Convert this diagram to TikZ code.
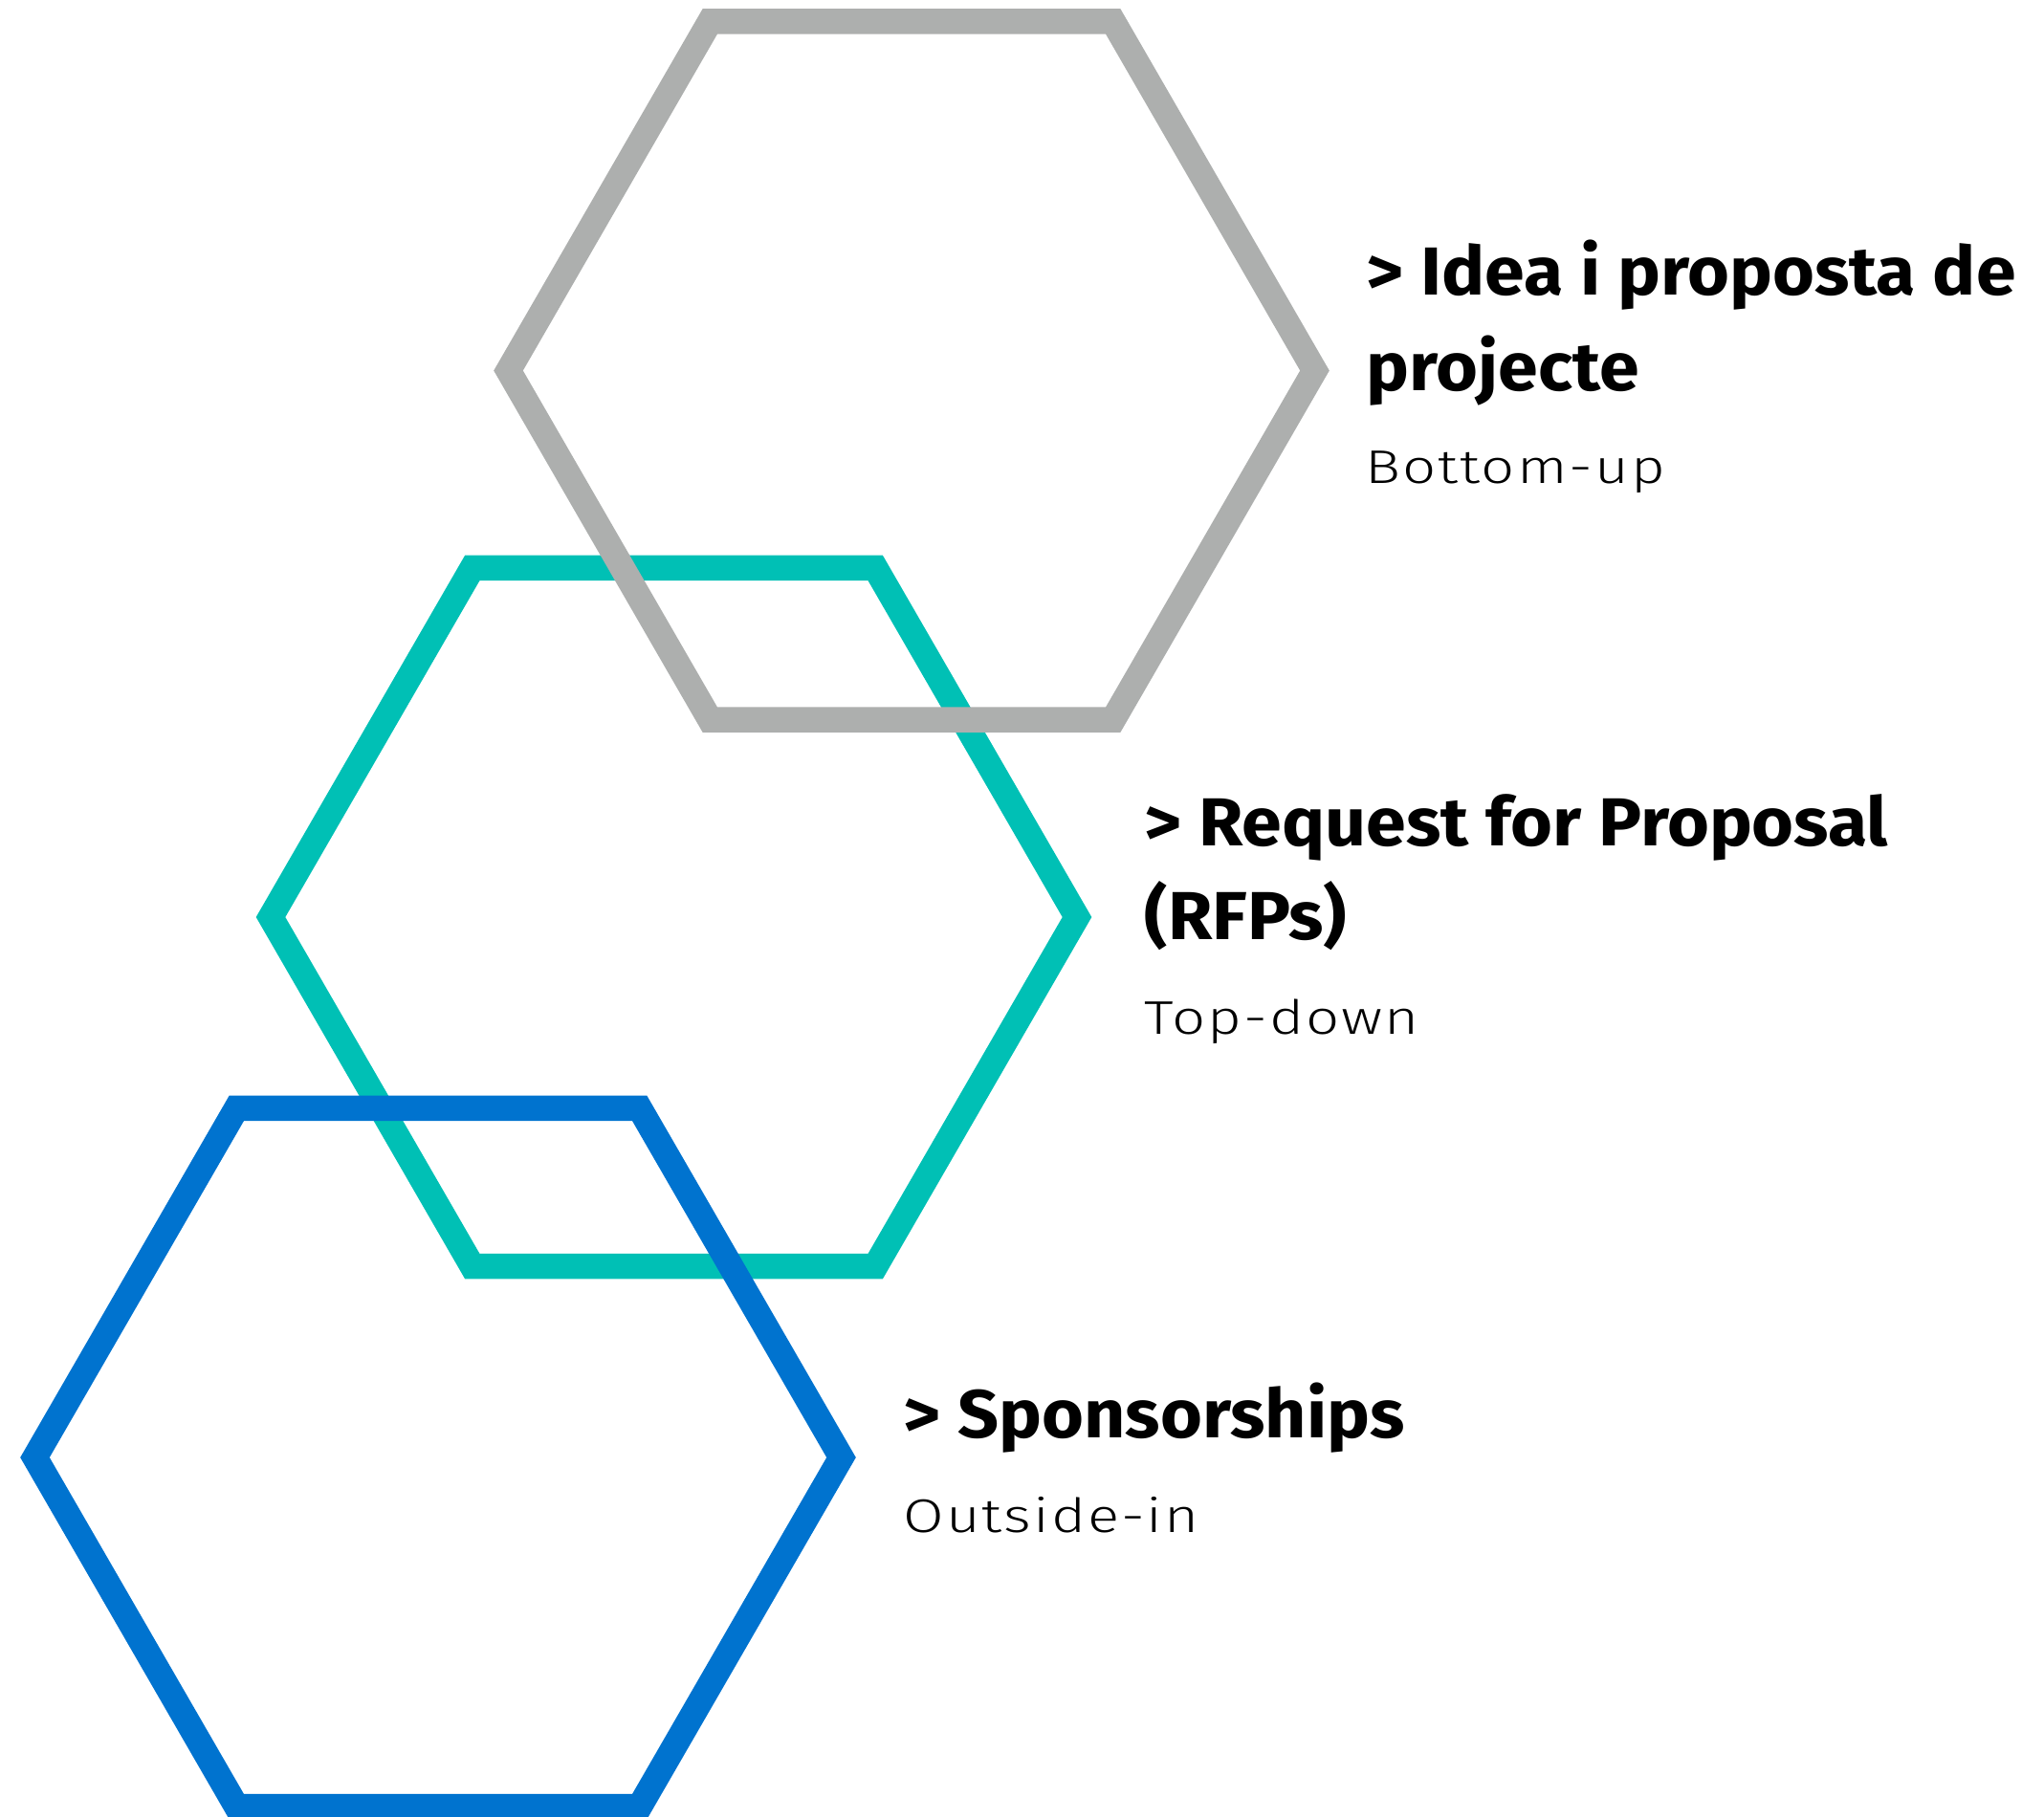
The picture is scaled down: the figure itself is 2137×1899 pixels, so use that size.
\documentclass[tikz,border=0pt]{standalone}
\usepackage{fontspec}
\setmainfont{Fira Sans}
\newfontfamily\headfont{Fira Sans}[FakeStretch=1.06]
\newfontfamily\subfont{Fira Sans Light}[FakeStretch=1.25, LetterSpace=4]
\definecolor{hexgray}{HTML}{ADAFAE}
\definecolor{hexteal}{HTML}{00C0B5}
\definecolor{hexblue}{HTML}{0073CF}
\tikzset{
  hexline/.style={line width=7.95pt, line join=miter},
  head/.style={anchor=base west, inner sep=0pt, font=\fontsize{21.3pt}{24pt}\headfont\bfseries, text=black},
  subt/.style={anchor=base west, inner sep=0pt, font=\fontsize{14.8pt}{17pt}\subfont, text=black},
}
\begin{document}
\begin{tikzpicture}[x=0.3pt, y=-0.3pt]
\useasboundingbox (0,0) rectangle (2137,1899);
% hexagon radius 421.5 px
\coordinate (cg) at (953,387.5);
\coordinate (ct) at (704.5,959);
\coordinate (cb) at (458,1524);
\draw[hexline, hexteal] ([shift={(0:421.5)}]ct) -- ++(120:421.5) -- ++(180:421.5) -- ++(240:421.5) -- ++(300:421.5) -- ++(0:421.5) -- cycle;
\draw[hexline, hexgray] ([shift={(0:421.5)}]cg) -- ++(120:421.5) -- ++(180:421.5) -- ++(240:421.5) -- ++(300:421.5) -- ++(0:421.5) -- cycle;
\draw[hexline, hexblue] ([shift={(0:421.5)}]cb) -- ++(120:421.5) -- ++(180:421.5) -- ++(240:421.5) -- ++(300:421.5) -- ++(0:421.5) -- cycle;
\node[head] (g1) at (1428,308) {> Idea i proposta de};
\node[head] (g2) at (1428,408) {projecte};
\node[subt] (g3) at (1427,505) {Bottom-up};
\node[head] (t1) at (1196,884) {> Request for Proposal};
\node[head] (t2) at (1196,982) {(RFPs)};
\node[subt] (t3) at (1196,1081) {Top-down};
\node[head] (b1) at (944,1503) {> Sponsorships};
\node[subt] (b2) at (944,1602) {Outside-in};
\end{tikzpicture}
\end{document}
